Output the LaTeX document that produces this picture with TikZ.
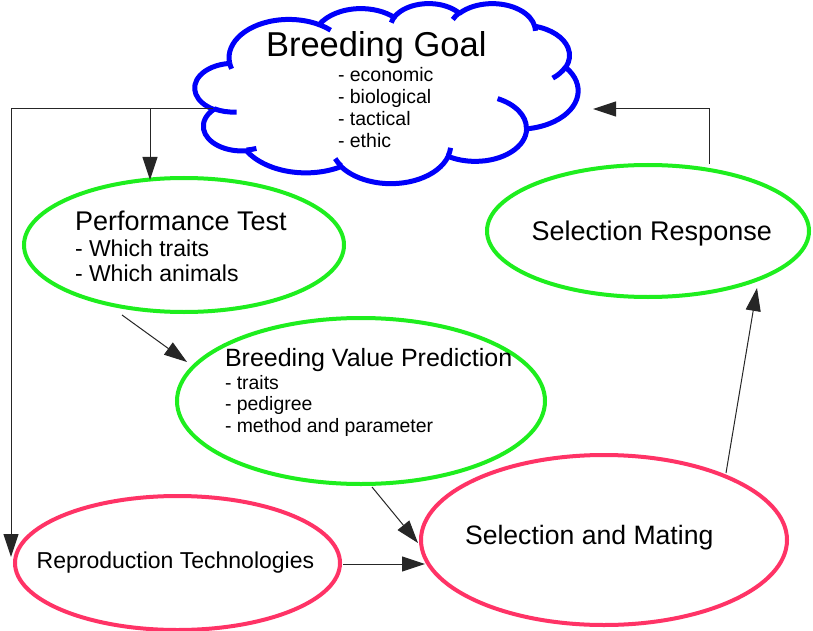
\documentclass[tikz,border=0pt]{standalone}
\usepackage{fontspec}
\setmainfont{Liberation Sans}
\usetikzlibrary{shapes.geometric,arrows.meta,calc}
\definecolor{cloudblue}{RGB}{0,0,250}
\definecolor{lgreen}{RGB}{30,238,30}
\definecolor{pinkred}{RGB}{255,51,102}
% elliptic arc with "visual" angles (DrawingML arcTo) -> parametric angles
\newcommand{\setarc}[5]{%
  \pgfmathsetmacro\arcTmpA{atan2((#2)*sin(#4),(#3)*cos(#4))}%
  \pgfmathsetmacro\arcTmpB{atan2((#2)*sin((#4)+(#5)),(#3)*cos((#4)+(#5)))}%
  \pgfmathsetmacro\arcTmpD{\arcTmpB-\arcTmpA}%
  \ifdim #5pt>0pt
    \ifdim \arcTmpD pt<0pt \pgfmathsetmacro\arcTmpB{\arcTmpB+360}\fi
  \else
    \ifdim \arcTmpD pt>0pt \pgfmathsetmacro\arcTmpB{\arcTmpB-360}\fi
  \fi
  \expandafter\let\csname #1s\endcsname\arcTmpA
  \expandafter\let\csname #1e\endcsname\arcTmpB
}
\begin{document}
\begin{tikzpicture}[x=1pt,y=-1pt,
  oval/.style={ellipse, draw, line width=4pt, fill=white, inner sep=0pt},
  greenoval/.style={oval, draw=lgreen},
  redoval/.style={oval, draw=pinkred},
  bump/.style={draw=cloudblue, line width=5pt},
  arr/.style={draw=black!85, line width=1pt, -{Triangle[length=23pt,width=15pt]}},
  txt/.style={anchor=base west, inner sep=0pt, outer sep=0pt},
  ]
\useasboundingbox[fill=white] (0,0) rectangle (813,631);

% ellipses
\node[greenoval, minimum width=320pt, minimum height=134pt] (pt) at (184,245) {};
\node[greenoval, minimum width=368pt, minimum height=166pt] (bvp) at (361,401) {};
\node[greenoval, minimum width=322pt, minimum height=132pt] (sr) at (648,231) {};
\node[redoval, minimum width=366pt, minimum height=170pt] (sm) at (604,540) {};
\node[redoval, minimum width=325pt, minimum height=134pt] (repro) at (177.5,563) {};

% cloud (arc parameters)
\setarc{cA}{67.53}{91.90}{-190.4875}{123.7805}
\setarc{cB}{53.33}{72.67}{-144.1024}{89.9452}
\setarc{cC}{43.65}{59.45}{-145.8079}{99.7230}
\setarc{cD}{48.57}{65.95}{-130.9861}{117.2417}
\setarc{cE}{53.33}{72.73}{-78.7089}{109.0269}
\setarc{cF}{67.75}{92.20}{-46.2673}{130.2690}
\setarc{cG}{57.85}{78.67}{0.6250}{114.0333}
\setarc{cH}{67.52}{92.15}{22.4516}{115.1726}
\setarc{cI}{77.20}{105.43}{66.2426}{75.7110}
\setarc{cJ}{43.60}{59.18}{-274.9421}{146.7356}
\setarc{cK}{43.45}{59.45}{-246.8285}{152.5189}
\setarc{tA}{43.45}{59.45}{86.7420}{26.4295}
\setarc{tB}{43.60}{59.18}{73.6105}{11.4475}
\setarc{tC}{67.52}{92.15}{137.6242}{14.0811}
\setarc{tD}{67.52}{92.15}{6.4533}{15.9984}
\setarc{tE}{57.85}{78.67}{-70.2924}{70.9174}
\setarc{tF}{53.33}{72.73}{30.3180}{27.7515}
\setarc{tG}{48.57}{65.95}{-13.7443}{14.8589}
\setarc{tH}{48.57}{65.95}{-149.1815}{18.1954}
\setarc{tI}{43.65}{59.45}{-163.4943}{17.6864}
\setarc{tJ}{67.53}{91.90}{-66.7070}{12.3194}
\setarc{tK}{67.53}{91.90}{157.6544}{11.8582}

\begin{scope}[shift={(195,3)}, x=0.88657pt, y=-0.41667pt, line join=round]
\coordinate (goal) at (216,216);
\draw[bump, fill=white] (39.00,143.70)
  arc[start angle=\cAs, end angle=\cAe, x radius=67.53, y radius=91.90]
  arc[start angle=\cBs, end angle=\cBe, x radius=53.33, y radius=72.67]
  arc[start angle=\cCs, end angle=\cCe, x radius=43.65, y radius=59.45]
  arc[start angle=\cDs, end angle=\cDe, x radius=48.57, y radius=65.95]
  arc[start angle=\cEs, end angle=\cEe, x radius=53.33, y radius=72.73]
  arc[start angle=\cFs, end angle=\cFe, x radius=67.75, y radius=92.20]
  arc[start angle=\cGs, end angle=\cGe, x radius=57.85, y radius=78.67]
  arc[start angle=\cHs, end angle=\cHe, x radius=67.52, y radius=92.15]
  arc[start angle=\cIs, end angle=\cIe, x radius=77.20, y radius=105.43]
  arc[start angle=\cJs, end angle=\cJe, x radius=43.60, y radius=59.18]
  arc[start angle=\cKs, end angle=\cKe, x radius=43.45, y radius=59.45];
\draw[bump] (46.93,261.77) arc[start angle=\tAs, end angle=\tAe, x radius=43.45, y radius=59.45];
\draw[bump] (69.28,348.99) arc[start angle=\tBs, end angle=\tBe, x radius=43.60, y radius=59.18];
\draw[bump] (164.78,390.90) arc[start angle=\tCs, end angle=\tCe, x radius=67.52, y radius=92.15];
\draw[bump] (288.27,347.51) arc[start angle=\tDs, end angle=\tDe, x radius=67.52, y radius=92.15];
\draw[bump] (341.29,229.54) arc[start angle=\tEs, end angle=\tEe, x radius=57.85, y radius=78.67];
\draw[bump] (417.98,153.54) arc[start angle=\tFs, end angle=\tFe, x radius=53.33, y radius=72.73];
\draw[bump] (383.24,54.26) arc[start angle=\tGs, end angle=\tGe, x radius=48.57, y radius=65.95];
\draw[bump] (290.78,39.52) arc[start angle=\tHs, end angle=\tHe, x radius=48.57, y radius=65.95];
\draw[bump] (221.41,47.20) arc[start angle=\tIs, end angle=\tIe, x radius=43.65, y radius=59.45];
\draw[bump] (140.00,51.92) arc[start angle=\tJs, end angle=\tJe, x radius=67.53, y radius=91.90];
\draw[bump] (41.27,157.89) arc[start angle=\tKs, end angle=\tKe, x radius=67.53, y radius=91.90];
\end{scope}

% texts
\node[txt, font=\fontsize{34.5}{40}\selectfont] (goalT) at (266,57) {Breeding Goal};
\node[txt, font=\fontsize{19.5}{22}\selectfont] (goal1) at (338,81.5) {- economic};
\node[txt, font=\fontsize{19.5}{22}\selectfont] (goal2) at (338,103.5) {- biological};
\node[txt, font=\fontsize{19.5}{22}\selectfont] (goal3) at (338,125.5) {- tactical};
\node[txt, font=\fontsize{19.5}{22}\selectfont] (goal4) at (338,147.5) {- ethic};

\node[txt, font=\fontsize{27}{30}\selectfont] (ptT) at (75,230.7) {Performance Test};
\node[txt, font=\fontsize{23}{26}\selectfont] (pt1) at (75,256.7) {- Which traits};
\node[txt, font=\fontsize{23}{26}\selectfont] (pt2) at (75,281.7) {- Which animals};

\node[txt, font=\fontsize{25}{28}\selectfont] (bvpT) at (225,366) {Breeding Value Prediction};
\node[txt, font=\fontsize{19.4}{22}\selectfont] (bvp1) at (225,389) {- traits};
\node[txt, font=\fontsize{19.4}{22}\selectfont] (bvp2) at (225,410.5) {- pedigree};
\node[txt, font=\fontsize{19.4}{22}\selectfont] (bvp3) at (225,432) {- method and parameter};

\node[txt, font=\fontsize{27}{30}\selectfont] (srT) at (531.7,240.7) {Selection Response};
\node[txt, font=\fontsize{26.6}{30}\selectfont] (smT) at (465,544) {Selection and Mating};
\node[txt, font=\fontsize{23}{26}\selectfont] (reproT) at (36.7,568) {Reproduction Technologies};

% connectors
\coordinate (goalL) at (213,109);
\coordinate (goalR) at (593,109);
\coordinate (br) at (150,109);
\coordinate (reproTip) at ($(repro)+(-166.5,-6)$);
\draw[arr] (goalL) -| (reproTip);
\draw[arr] (br) -- ($(pt)+(-34,-65)$);
\draw[arr] ($(pt)+(-62,70)$) -- ($(bvp)+(-174,-39)$);
\draw[arr] ($(bvp)+(11,86)$) -- ($(sm)+(-186,3)$);
\draw[arr] ($(repro)+(165.5,1)$) -- ($(sm)+(-179,24)$);
\draw[arr] ($(sm)+(122,-67)$) -- ($(sr)+(109,57)$);
\draw[arr] ($(sr)+(61,-67)$) |- (goalR);
\end{tikzpicture}
\end{document}
